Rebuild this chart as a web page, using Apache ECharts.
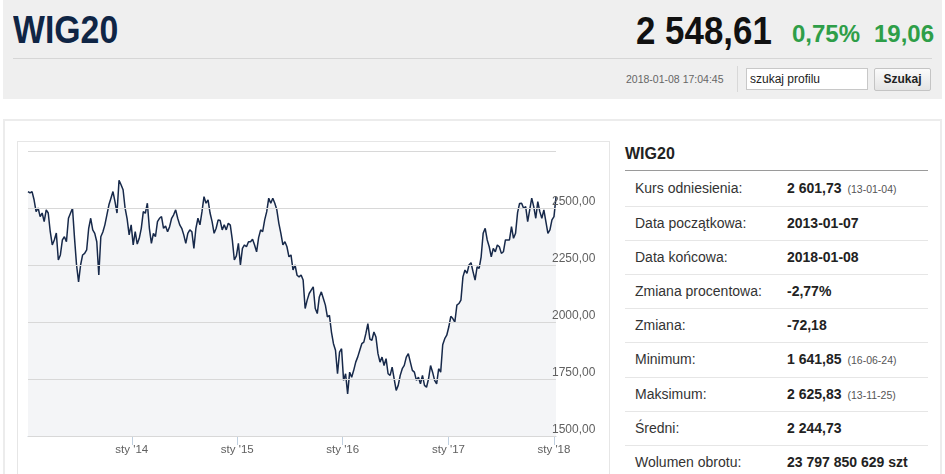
<!DOCTYPE html>
<html><head><meta charset="utf-8">
<script src="https://cdn.jsdelivr.net/npm/echarts@6/dist/echarts.min.js"></script>
<style>
html,body{margin:0;padding:0;background:#fff;width:945px;height:474px;overflow:hidden;font-family:"Liberation Sans",Arial,sans-serif;}
.a{position:absolute;white-space:nowrap;}
#head{position:absolute;left:3px;top:0;width:939px;height:99px;background:#efefef;}
#panel{position:absolute;left:3px;top:119px;width:939px;height:370px;border:2px solid #ececec;box-sizing:border-box;background:#fff;}
#cbox{position:absolute;left:17px;top:141px;width:593px;height:340px;border:1px solid #e6e6e6;box-sizing:border-box;background:#fff;}
#chart{position:absolute;left:0;top:0;width:945px;height:474px;z-index:2;}
.row{position:absolute;left:610px;width:330px;height:34px;line-height:34px;font-size:14px;color:#333;}
.row .l{position:absolute;left:25px;}
.row .v{position:absolute;left:177px;font-weight:bold;color:#222;}
.row .v small{font-weight:normal;font-size:10.5px;color:#555;margin-left:6px;}
.sep{position:absolute;left:625px;width:303px;height:1px;background:#e6e6e6;}
</style></head>
<body>
<div id="head"></div>
<div class="a" style="left:13px;top:11px;font-size:38px;line-height:38px;font-weight:bold;color:#0f2545;transform:scaleX(0.89);transform-origin:0 0;">WIG20</div>
<div class="a" style="left:636px;top:11px;font-size:39px;line-height:39px;font-weight:bold;color:#111;transform:scaleX(0.895);transform-origin:0 0;">2 548,61</div>
<div class="a" style="left:792px;top:22px;font-size:24px;line-height:24px;font-weight:bold;color:#2e9e48;">0,75%</div>
<div class="a" style="left:874px;top:22px;font-size:24px;line-height:24px;font-weight:bold;color:#2e9e48;">19,06</div>
<div class="a" style="left:13px;top:58px;width:919px;height:1px;background:#d6d6d6;"></div>
<div class="a" style="left:626px;top:73.5px;font-size:10.5px;line-height:11px;color:#666;">2018-01-08 17:04:45</div>
<div class="a" style="left:737px;top:66px;width:1px;height:26px;background:#d8d8d8;"></div>
<div class="a" style="left:746px;top:68px;width:122px;height:22px;border:1px solid #c8c8c8;box-sizing:border-box;background:#fff;"></div>
<div class="a" style="left:750px;top:73px;font-size:12px;line-height:12px;color:#222;">szukaj profilu</div>
<div class="a" style="left:874px;top:68px;width:57px;height:23px;border:1px solid #c4c4c4;box-sizing:border-box;background:linear-gradient(#fbfbfb,#e4e4e4);border-radius:2px;font-size:12px;line-height:21px;font-weight:bold;color:#222;text-align:center;">Szukaj</div>

<div id="panel"></div>
<div id="cbox"></div>

<div class="a" style="left:625px;top:145.5px;font-size:16px;line-height:16px;font-weight:bold;color:#222;">WIG20</div>
<div class="a" style="left:625px;top:170px;width:303px;height:1px;background:#9a9a9a;"></div>
<div id="table"></div>

<div id="chart"></div>
<script>
// ---- data ----
const startDate = '2013-01-07';   // weekly closes, first week
const endDate = '2018-01-08';
const values = [
2572,2566,2572,2536,2484,2500,2462,2478,2440,2492,
2478,2396,2338,2360,2390,2272,2294,2360,2374,2352,
2455,2477,2499,2368,2250,2176,2250,2294,2301,2316,
2411,2455,2404,2389,2352,2206,2374,2395,2426,2470,
2514,2543,2572,2528,2478,2622,2602,2580,2499,2452,
2382,2426,2338,2396,2342,2367,2411,2484,2477,2521,
2411,2345,2389,2374,2440,2455,2462,2411,2421,2396,
2418,2455,2470,2492,2455,2426,2411,2382,2345,2389,
2404,2396,2323,2411,2455,2426,2484,2550,2521,2536,
2478,2440,2389,2411,2448,2445,2404,2426,2404,2433,
2425,2360,2272,2290,2345,2250,2323,2338,2330,2352,
2352,2363,2338,2308,2370,2404,2396,2448,2484,2543,
2521,2543,2521,2492,2433,2389,2338,2352,2330,2286,
2294,2228,2250,2205,2198,2206,2184,2059,2096,2125,
2140,2154,2059,2037,2110,2132,2103,2074,2022,2029,
1956,1905,1876,1773,1868,1883,1744,1773,1685,1780,
1758,1788,1824,1847,1876,1905,1912,1949,1993,1925,
1920,1956,1934,1861,1824,1846,1809,1839,1773,1766,
1802,1751,1700,1722,1766,1795,1810,1846,1861,1824,
1788,1780,1744,1758,1729,1766,1722,1714,1751,1809,
1780,1744,1729,1795,1780,1900,1927,1942,1978,2025,
2015,2000,2074,2081,2096,2198,2228,2213,2250,2260,
2220,2184,2242,2235,2286,2389,2411,2360,2330,2286,
2323,2308,2338,2330,2301,2308,2360,2360,2360,2418,
2367,2389,2480,2520,2521,2499,2506,2440,2492,2543,
2506,2455,2528,2484,2455,2492,2440,2389,2404,2448,
2462,2548.61
];
const xTickDates = ['2014-01-01','2015-01-01','2016-01-01','2017-01-01','2018-01-01'];
const xTickLabels = ["sty '14","sty '15","sty '16","sty '17","sty '18"];
const yMin = 1500, yMax = 2750, yStep = 250;

const tableLabels = ['Kurs odniesienia:','Data początkowa:','Data końcowa:','Zmiana procentowa:','Zmiana:','Minimum:','Maksimum:','Średni:','Wolumen obrotu:'];
const tableValues = ['2 601,73','2013-01-07','2018-01-08','-2,77%','-72,18','1 641,85','2 625,83','2 244,73','23 797 850 629 szt'];
const tableNotes = ['(13-01-04)','','','','','(16-06-24)','(13-11-25)','',''];

// ---- table ----
const tb = document.getElementById('table');
tableLabels.forEach((lab, i) => {
  const c = 188.3 + 34.2 * i;
  const r = document.createElement('div');
  r.className = 'row';
  r.style.top = (c - 17) + 'px';
  r.innerHTML = '<span class="l"></span><span class="v"></span>';
  r.querySelector('.l').textContent = lab;
  const v = r.querySelector('.v');
  v.textContent = tableValues[i];
  if (tableNotes[i]) { const s = document.createElement('small'); s.textContent = tableNotes[i]; v.appendChild(s); }
  tb.appendChild(r);
  if (i < tableLabels.length - 1) {
    const s = document.createElement('div');
    s.className = 'sep';
    s.style.top = (c + 17.2) + 'px';
    tb.appendChild(s);
  }
});

// ---- chart ----
const t0 = Date.parse(startDate + 'T00:00:00Z');
const t1 = Date.parse(endDate + 'T00:00:00Z');
const DAY = 86400000;
const seriesData = values.map((v, i) => [t0 + i * 7 * DAY, v]);
const tickTs = xTickDates.map(d => Date.parse(d + 'T00:00:00Z'));

const chart = echarts.init(document.getElementById('chart'), null, {renderer: 'canvas'});
chart.setOption({
  animation: false,
  backgroundColor: 'transparent',
  grid: {left: 28, right: 389, top: 151, bottom: 38, containLabel: false},
  xAxis: {
    type: 'value',
    min: t0,
    max: t1,
    splitLine: {show: false},
    axisLine: {show: true, lineStyle: {color: '#c0d0e0', width: 1}},
    axisTick: {show: true, customValues: tickTs, length: 9, lineStyle: {color: '#c0d0e0'}},
    axisLabel: {
      customValues: tickTs, margin: 8, color: '#606060', fontSize: 11.5,
      showMinLabel: true, showMaxLabel: true,
      fontFamily: 'Liberation Sans, Arial, sans-serif',
      formatter: (val) => { const k = tickTs.indexOf(val); return k >= 0 ? xTickLabels[k] : ''; }
    }
  },
  yAxis: {
    type: 'value', position: 'right', min: yMin, max: yMax, interval: yStep,
    z: 5,
    axisLine: {show: false}, axisTick: {show: false},
    splitLine: {show: true, lineStyle: {color: '#d8d8d8', width: 1}},
    axisLabel: {
      inside: false, margin: -4, align: 'left', verticalAlign: 'bottom',
      color: '#606060', fontSize: 12, fontFamily: 'Liberation Sans, Arial, sans-serif',
      showMaxLabel: true,
      formatter: (v) => v >= yMax ? '' : v.toFixed(2).replace('.', ',')
    }
  },
  series: [{
    type: 'line', data: seriesData, showSymbol: false, symbol: 'none',
    lineStyle: {color: '#17294a', width: 1.5},
    areaStyle: {color: '#f4f5f7', origin: 'start', opacity: 1},
    z: 2
  }]
});
</script>
</body></html>
